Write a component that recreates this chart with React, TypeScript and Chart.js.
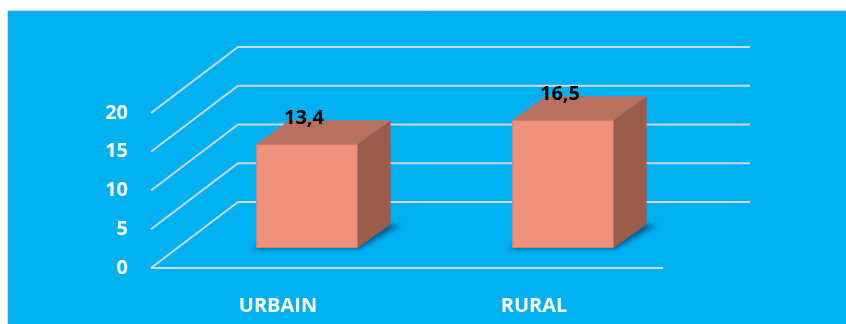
import React, { useEffect, useRef } from "react";
import { Chart, registerables } from "chart.js";

Chart.register(...registerables);

// ---- data ----
const categories = ["URBAIN", "RURAL"];
const values = [13.4, 16.5];
const valueLabels = ["13,4", "16,5"];
const yTicks = [0, 5, 10, 15, 20];

// ---- style ----
const FONT = "'Open Sans', 'DejaVu Sans', sans-serif";
const BG = "#00B0F0";
const GRID = "#cdd8df";
const FRONT = "#F1937C";
const TOP = "#B8705F";
const SIDE = "#9A5D4C";

// 3D offsets (pixels)
const BAR_DX = 33;
const BAR_DY = -24;
const FRONT_DX = -28;
const FRONT_DY = 20;
const BACK_DX = 59;
const BACK_DY = -46;

const threeD = {
  id: "threeD",
  beforeDraw(chart: any) {
    const { ctx, width, height } = chart;
    ctx.save();
    ctx.fillStyle = "#ffffff";
    ctx.fillRect(0, 0, width, height);
    ctx.fillStyle = BG;
    ctx.fillRect(8, 11, width - 8, height - 11);
    ctx.strokeStyle = "#d6d6d6";
    ctx.lineWidth = 1;
    ctx.beginPath();
    ctx.moveTo(7.5, height);
    ctx.lineTo(7.5, 10.5);
    ctx.lineTo(width, 10.5);
    ctx.stroke();
    ctx.restore();
  },
  beforeDatasetsDraw(chart: any) {
    const { ctx } = chart;
    const ys = chart.scales.y;
    const { left, right } = chart.chartArea;
    ctx.save();
    ctx.strokeStyle = GRID;
    ctx.lineWidth = 2;
    ctx.lineCap = "butt";
    yTicks.forEach((v) => {
      const py = ys.getPixelForValue(v);
      ctx.beginPath();
      ctx.moveTo(left + FRONT_DX, py + FRONT_DY);
      ctx.lineTo(left + BACK_DX, py + BACK_DY);
      ctx.lineTo(right + BACK_DX, py + BACK_DY);
      ctx.stroke();
    });
    const p0 = ys.getPixelForValue(0);
    ctx.beginPath();
    ctx.moveTo(left + FRONT_DX, p0 + FRONT_DY);
    ctx.lineTo(right + FRONT_DX, p0 + FRONT_DY);
    ctx.stroke();

    // soft shadows under bars
    const meta = chart.getDatasetMeta(0);
    ctx.fillStyle = "rgba(0,70,110,0.75)";
    ctx.filter = "blur(2px)";
    meta.data.forEach((bar: any) => {
      const l = bar.x - bar.width / 2;
      const r = bar.x + bar.width / 2;
      const b = bar.base;
      ctx.beginPath();
      ctx.moveTo(l - 4, b + 1);
      ctx.lineTo(r + 2, b + 1);
      ctx.lineTo(r + BAR_DX + 10, b + BAR_DY + 1);
      ctx.lineTo(l + BAR_DX, b + BAR_DY + 1);
      ctx.closePath();
      ctx.fill();
    });
    ctx.filter = "none";
    ctx.restore();
  },
  afterDatasetsDraw(chart: any) {
    const { ctx } = chart;
    const meta = chart.getDatasetMeta(0);
    ctx.save();
    meta.data.forEach((bar: any, i: number) => {
      const l = bar.x - bar.width / 2;
      const r = bar.x + bar.width / 2;
      const t = bar.y;
      const b = bar.base;
      // front face (solid, with subtle bevel edge)
      ctx.fillStyle = FRONT;
      ctx.fillRect(l, t, r - l, b - t);
      ctx.strokeStyle = "rgba(200,110,90,0.6)";
      ctx.lineWidth = 1;
      ctx.strokeRect(l + 0.5, t + 0.5, r - l - 1, b - t - 1);
      // top face
      ctx.fillStyle = TOP;
      ctx.beginPath();
      ctx.moveTo(l, t);
      ctx.lineTo(r, t);
      ctx.lineTo(r + BAR_DX, t + BAR_DY);
      ctx.lineTo(l + BAR_DX, t + BAR_DY);
      ctx.closePath();
      ctx.fill();
      // side face
      ctx.fillStyle = SIDE;
      ctx.beginPath();
      ctx.moveTo(r, t);
      ctx.lineTo(r + BAR_DX, t + BAR_DY);
      ctx.lineTo(r + BAR_DX, b + BAR_DY);
      ctx.lineTo(r, b);
      ctx.closePath();
      ctx.fill();
      // value label
      ctx.fillStyle = "#000000";
      ctx.font = `bold 20px ${FONT}`;
      ctx.textAlign = "center";
      ctx.textBaseline = "middle";
      ctx.fillText(valueLabels[i], bar.x - 3, t - 26);
    });
    ctx.restore();
  },
};

export default function App() {
  const ref = useRef<HTMLCanvasElement | null>(null);
  useEffect(() => {
    if (!ref.current) return;
    const chart = new Chart(ref.current, {
      type: "bar",
      data: {
        labels: categories,
        datasets: [
          {
            data: values,
            backgroundColor: FRONT,
            borderWidth: 0,
            categoryPercentage: 1,
            barPercentage: 0.396,
          },
        ],
      },
      options: {
        responsive: false,
        animation: false,
        devicePixelRatio: 1,
        layout: { padding: { left: 0, top: 93, right: 155, bottom: 0 } },
        plugins: { legend: { display: false }, tooltip: { enabled: false } },
        scales: {
          x: {
            grid: { display: false },
            border: { display: false },
            ticks: {
              color: "#ffffff",
              font: { family: FONT, size: 20, weight: "bold" },
              padding: 38,
              labelOffset: -29,
              maxRotation: 0,
            },
            afterFit: (s: any) => {
              s.height = 76;
            },
          },
          y: {
            min: 0,
            max: 20,
            grid: { display: false },
            border: { display: false },
            ticks: {
              stepSize: 5,
              color: "#ffffff",
              font: { family: FONT, size: 20, weight: "bold" },
              padding: 43,
              labelOffset: 20,
            },
            afterFit: (s: any) => {
              s.width = 179;
            },
          },
        },
      },
      plugins: [threeD],
    });
    return () => chart.destroy();
  }, []);
  return (
    <div style={{ position: "absolute", left: 0, top: 0, width: 846, height: 324 }}>
      <canvas ref={ref} width={846} height={324} style={{ display: "block" }} />
    </div>
  );
}
